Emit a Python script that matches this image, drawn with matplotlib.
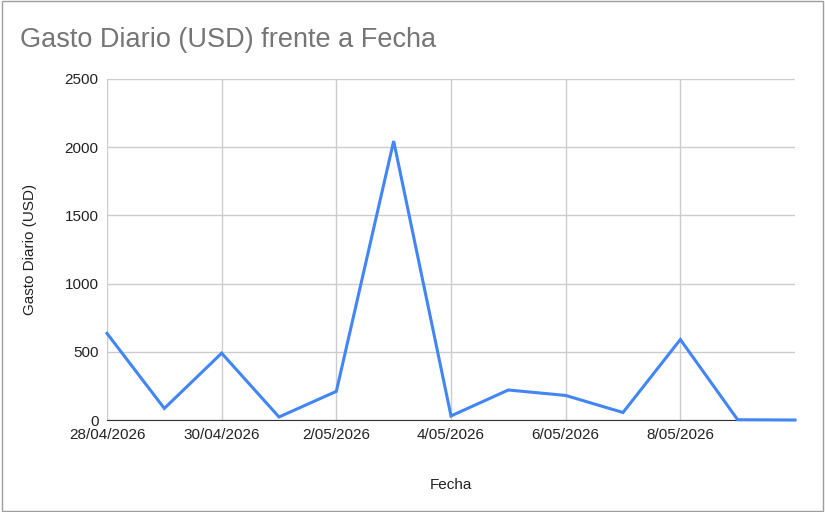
import matplotlib
matplotlib.use("Agg")
import matplotlib.pyplot as plt
import numpy as np

dates = ["28/04/2026","29/04/2026","30/04/2026","1/05/2026","2/05/2026","3/05/2026","4/05/2026",
         "5/05/2026","6/05/2026","7/05/2026","8/05/2026","9/05/2026","10/05/2026"]
gasto = [635, 85, 490, 22, 210, 2045, 30, 220, 180, 55, 590, 2, 0]

fig = plt.figure(figsize=(8.25, 5.12), dpi=100)
plt.rcParams['font.family'] = ['Liberation Sans', 'DejaVu Sans']
ax = fig.add_axes([107/825, 1-420/512, (795-107)/825, (420-79)/512])
x = np.arange(len(dates))
ax.plot(x, gasto, color="#4285F4", lw=2.2, solid_joinstyle='miter', clip_on=False, zorder=3)
ax.set_xlim(0, len(dates)-1)
ax.set_ylim(0, 2500)
ax.set_yticks(range(0, 2501, 500))
ax.set_xticks(x[::2][:6])
ax.set_xticklabels(dates[::2][:6])
ax.grid(True, color="#cccccc", lw=1)
for s in ["top", "right", "left"]:
    ax.spines[s].set_visible(False)
ax.spines["bottom"].set_color("#333333")
ax.tick_params(length=0, labelsize=11, colors="#222222", pad=6)
ax.set_xlabel("Fecha", fontsize=11, color="#222222", labelpad=26)
ax.set_ylabel("Gasto Diario (USD)", fontsize=11, color="#222222", labelpad=20)
fig.text(20/825, 1-40/512, "Gasto Diario (USD) frente a Fecha", fontsize=19.5, color="#757575", va="center")
fig.patches.append(plt.Rectangle((0.002, 0.002), 0.996, 0.996, transform=fig.transFigure,
                                 fill=False, edgecolor="#9e9e9e", lw=1))
fig.savefig("out.png", dpi=100)
